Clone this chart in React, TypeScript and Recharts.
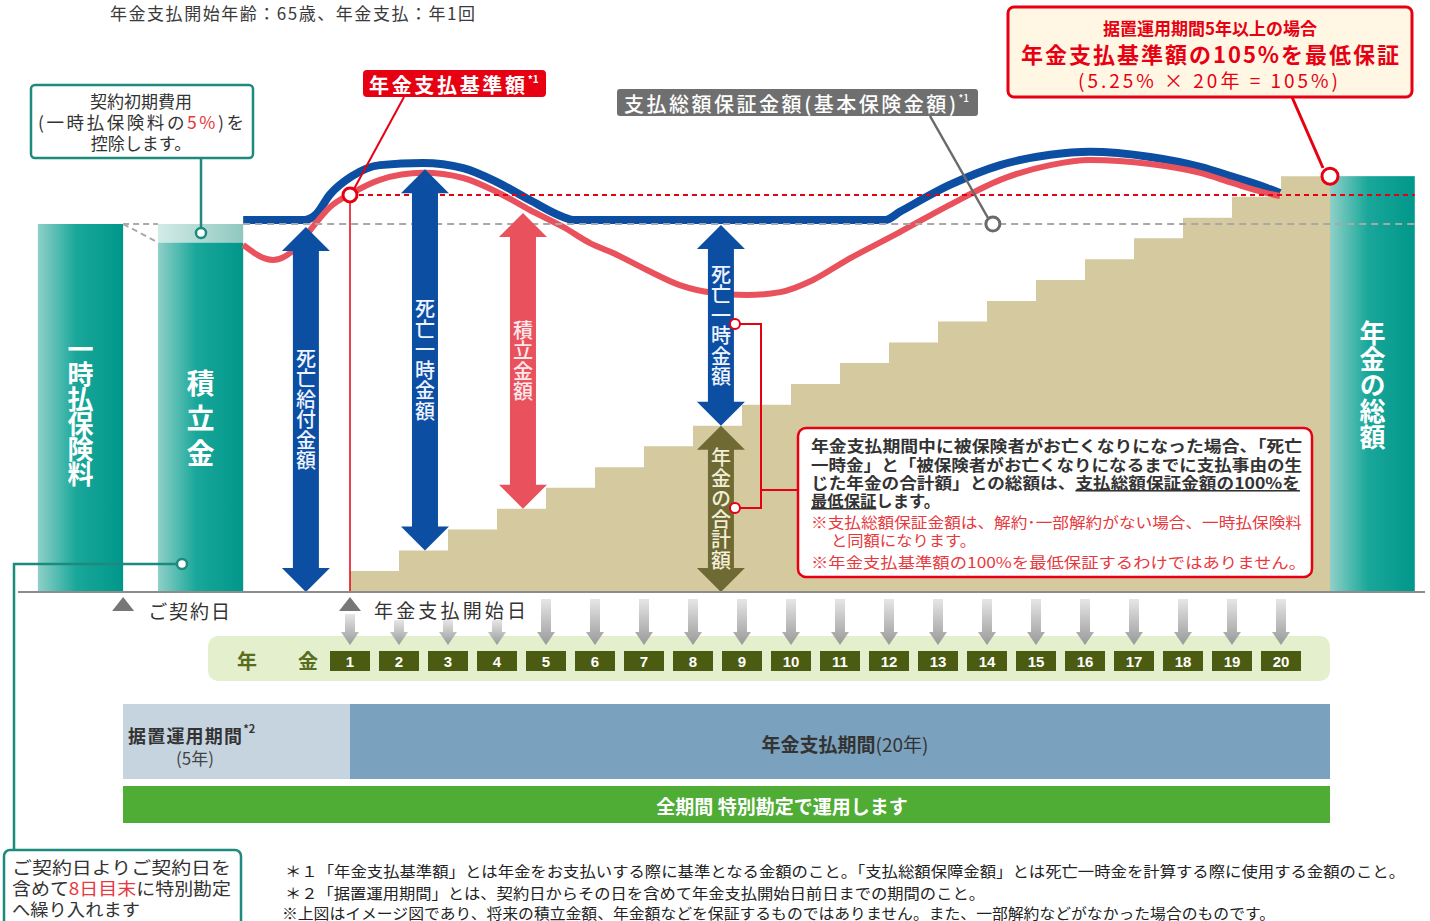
import React from "react";
import {
  ComposedChart,
  XAxis,
  YAxis,
  Area,
  Line,
  ReferenceArea,
  ReferenceLine,
  ReferenceDot,
} from "recharts";

const FONT = "'Noto Sans CJK JP', 'Noto Sans', sans-serif";

// timeline unit = 1 year, 0 = 年金支払開始日. amounts: 一時払保険料 = 100
const paymentYears = [1, 2, 3, 4, 5, 6, 7, 8, 9, 10, 11, 12, 13, 14, 15, 16, 17, 18, 19, 20];
const pensionTotals = [
  5.7, 11.3, 17.0, 22.6, 28.3, 33.9, 39.6, 45.2, 50.9, 56.5,
  62.2, 67.8, 73.5, 79.1, 84.8, 90.4, 96.1, 101.7, 107.4, 113.0,
];
const contractDay = -4.63;

const basicAmount = 100; // 支払総額保証金額
const pensionBase = 107.9; // 年金支払基準額

// 積立金額 (red curve)
const reserveT = [
  -2.18, -1.57, -1.08, -0.76, -0.41, 0.04, 0.61, 1.49, 2.31, 3.0, 3.67, 4.35, 4.9, 5.37,
  6.06, 6.73, 7.41, 8.1, 8.78, 9.45, 10.14, 11.22, 12.24, 13.27, 14.29, 15.1, 16.33,
  17.35, 18.02, 18.71, 18.98,
];
const reserveV = [
  94.3, 90.2, 93.8, 99.2, 104.6, 108.4, 112.0, 113.9, 112.5, 108.7, 103.8, 99.2, 94.8, 92.1,
  87.5, 83.4, 81.3, 80.7, 81.5, 84.8, 90.2, 97.8, 105.2, 112.0, 116.0, 117.4, 116.3,
  113.9, 111.1, 108.4, 107.6,
];

// 死亡給付金額 (blue line)
const deathT = [
  -2.18, -0.92, -0.71, -0.41, 0.04, 0.61, 1.49, 2.31, 3.0, 3.67, 4.35, 4.55, 10.92, 11.22,
  12.24, 13.27, 14.29, 15.1, 16.33, 17.35, 18.02, 18.71, 18.98,
];
const deathV = [
  101.1, 101.1, 102.4, 108.0, 113.0, 116.0, 116.6, 115.2, 111.4, 106.5, 101.9, 101.1, 101.1,
  103.3, 110.6, 116.0, 118.8, 119.6, 118.2, 115.5, 112.8, 109.8, 108.4,
];

const columnNames = ["一時払保険料", "積立金", "年金の総額"];
const columnFrom = [-6.37, -3.92, 20];
const columnTo = [-4.63, -2.18, 21.73];
const columnValues = [100, 95, 113];
const initialCost = 5;

const arrowLabels = ["死亡給付金額", "死亡一時金額", "積立金額", "死亡一時金額", "年金の合計額"];
const arrowT = [-0.9, 1.53, 3.53, 7.57, 7.57];
const arrowTop = [99.2, 114.9, 103.0, 99.7, 45.2];
const arrowBottom = [0, 11.3, 22.6, 45.2, 0];
const arrowColors = ["#0b4ea2", "#0b4ea2", "#e9525d", "#0b4ea2", "#6f6934"];
const arrowText = ["#eef3ff", "#eef3ff", "#fde9eb", "#eef3ff", "#f1eed6"];

const reserveCurve = reserveT.map((t, i) => ({ t, v: reserveV[i] }));
const deathCurve = deathT.map((t, i) => ({ t, v: deathV[i] }));
const stairs = paymentYears
  .map((y, i) => ({ t: y - 1, v: pensionTotals[i] }))
  .concat([{ t: 20, v: pensionTotals[19] }]);
const tickValues = [contractDay, ...paymentYears.map((y) => y - 1)];

// vertical (tategaki) text, one text node
function VText({ x, cy, text, size, gap, fill, weight }: any) {
  const spacing = gap - size;
  return (
    <text
      x={x}
      y={cy + spacing / 2}
      textAnchor="middle"
      fontSize={size}
      fontWeight={weight}
      fill={fill}
      fontFamily={FONT}
      style={{ writingMode: "vertical-rl", letterSpacing: `${spacing}px` } as any}
    >
      {text}
    </text>
  );
}

function DoubleArrow(props: any) {
  const { x1, y1, x2, y2, color, label, textFill } = props;
  const x = (x1 + x2) / 2;
  const top = Math.min(y1, y2);
  const bot = Math.max(y1, y2);
  const w = 13;
  const hw = 24;
  const hl = 24;
  const pts = [
    [x, top],
    [x + hw, top + hl],
    [x + w, top + hl],
    [x + w, bot - hl],
    [x + hw, bot - hl],
    [x, bot],
    [x - hw, bot - hl],
    [x - w, bot - hl],
    [x - w, top + hl],
    [x - hw, top + hl],
  ]
    .map((p) => p.join(","))
    .join(" ");
  return (
    <g>
      <polygon points={pts} fill={color} />
      <VText x={x} cy={(top + bot) / 2} text={label} size={20} gap={20.5} fill={textFill} weight={500} />
    </g>
  );
}

function Column(props: any) {
  const { x, y, width, height, label, light } = props;
  if (light) {
    return <rect x={x} y={y} width={width} height={height} fill="url(#tealLight)" />;
  }
  const big = Array.from(label as string).length;
  const gap = big === 3 ? 35 : big === 5 ? 26 : 25;
  const cy = big === 3 ? 418 : big === 5 ? 385 : 412;
  const size = big === 3 ? 28 : 26;
  return (
    <g>
      <rect x={x} y={y} width={width} height={height} fill="url(#tealGrad)" />
      <VText x={x + width / 2} cy={cy} text={label} size={size} gap={gap} fill="#ffffff" weight={700} />
    </g>
  );
}

function YearTick(props: any) {
  const { x, y, payload } = props;
  const t = payload.value;
  if (t === contractDay) {
    return (
      <g>
        <polygon points={`${x - 11},${y + 19} ${x},${y + 5} ${x + 11},${y + 19}`} fill="#777" />
        <text x={x + 25} y={y + 18} fontSize={19} fill="#333" fontFamily={FONT} dominantBaseline="central" textLength={82}>
          ご契約日
        </text>
      </g>
    );
  }
  const isStart = t === 0;
  const underLabel = t > 0 && t < 4;
  const top = isStart ? y + 22 : underLabel ? y + 28 : y + 7;
  const shaft = `${x - 5},${top} ${x + 5},${top} ${x + 5},${y + 40} ${x + 9},${y + 40} ${x},${y + 53} ${x - 9},${y + 40} ${x - 5},${y + 40}`;
  return (
    <g>
      <polygon points={shaft} fill="url(#grayArrow)" />
      {isStart && (
        <g>
          <polygon points={`${x - 11},${y + 19} ${x},${y + 5} ${x + 11},${y + 19}`} fill="#777" />
          <text x={x + 24} y={y + 17} fontSize={19} fill="#333" fontFamily={FONT} dominantBaseline="central" textLength={152}>
            年金支払開始日
          </text>
        </g>
      )}
      <rect x={x - 20} y={y + 59} width={40} height={20} fill="#4b5b12" />
      <text
        x={x}
        y={y + 69.5}
        textAnchor="middle"
        dominantBaseline="central"
        fontSize={15}
        fontWeight={700}
        fill="#fff"
        fontFamily="'Liberation Sans', Arial, sans-serif"
      >
        {t + 1}
      </text>
    </g>
  );
}

function Underlay() {
  return (
    <svg width={1430} height={921} style={{ position: "absolute", left: 0, top: 0 }}>
      <rect x={208} y={636} width={1122} height={45} rx={10} fill="#e3efcd" />
      <text x={247} y={660} textAnchor="middle" dominantBaseline="central" fontSize={20} fontWeight={700} fill="#5a6d1e" fontFamily={FONT}>
        年
      </text>
      <text x={308} y={660} textAnchor="middle" dominantBaseline="central" fontSize={20} fontWeight={700} fill="#5a6d1e" fontFamily={FONT}>
        金
      </text>
      <rect x={123} y={704} width={227} height={75} fill="#c6d4e0" />
      <rect x={350} y={704} width={980} height={75} fill="#7aa1bd" />
      <text x={128} y={735} fontSize={18} fontWeight={700} fill="#333" fontFamily={FONT} dominantBaseline="central">
        <tspan textLength={114}>据置運用期間</tspan>
        <tspan fontSize={11} dy={-7}>*2</tspan>
      </text>
      <text x={195} y={757} textAnchor="middle" fontSize={17} fill="#444" fontFamily={FONT} dominantBaseline="central">
        (5年)
      </text>
      <text x={845} y={743} textAnchor="middle" fontSize={19} fill="#333" fontFamily={FONT} dominantBaseline="central">
        <tspan fontWeight={700}>年金支払期間</tspan>
        <tspan>(20年)</tspan>
      </text>
      <rect x={123} y={786} width={1207} height={37} fill="#4fac34" />
      <text x={782} y={805} textAnchor="middle" fontSize={19} fontWeight={700} fill="#fff" fontFamily={FONT} dominantBaseline="central">
        全期間 特別勘定で運用します
      </text>
    </svg>
  );
}

function Overlay() {
  const teal = "#1c8a7c";
  const red = "#e60012";
  const pink = "#e8383d";
  const u = { textDecoration: "underline" };
  return (
    <svg
      width={1430}
      height={921}
      style={{ position: "absolute", left: 0, top: 0, pointerEvents: "none" }}
      fontFamily={FONT}
    >
      <text x={110} y={12} fontSize={17} fill="#3a3a3a" dominantBaseline="central" textLength={365}>
        年金支払開始年齢：65歳、年金支払：年1回
      </text>

      {/* 契約初期費用 */}
      <line x1={201} y1={158} x2={201} y2={228} stroke={teal} strokeWidth={2.5} />
      <circle cx={201} cy={233} r={5} fill="#fff" stroke={teal} strokeWidth={2.5} />
      <rect x={31} y={85} width={222} height={73} rx={4} fill="#fff" stroke={teal} strokeWidth={2.5} />
      <text x={141} y={100} textAnchor="middle" dominantBaseline="central" fontSize={17} fill="#333">
        契約初期費用
      </text>
      <text x={141} y={121} textAnchor="middle" dominantBaseline="central" fontSize={17.5} fill="#333" textLength={206}>
        (一時払保険料の<tspan fill={pink}>5%</tspan>)を
      </text>
      <text x={141} y={142} textAnchor="middle" dominantBaseline="central" fontSize={17} fill="#333">
        控除します。
      </text>

      {/* 年金支払基準額 */}
      <line x1={404} y1={97} x2={354} y2={189} stroke={red} strokeWidth={2} />
      <rect x={363} y={70} width={183} height={27} rx={4} fill={red} />
      <text x={369} y={84} dominantBaseline="central" fontSize={20} fontWeight={700} fill="#fff">
        <tspan textLength={156}>年金支払基準額</tspan>
        <tspan fontSize={10} dy={-6}>*1</tspan>
      </text>

      {/* 支払総額保証金額 */}
      <line x1={930} y1={116} x2={988} y2={218} stroke="#6a6a6a" strokeWidth={2.5} />
      <rect x={617} y={89} width={361} height={27} rx={3} fill="#6f6f6f" />
      <text x={624} y={103} dominantBaseline="central" fontSize={20} fontWeight={500} fill="#fff">
        <tspan textLength={332}>支払総額保証金額(基本保険金額)</tspan>
        <tspan fontSize={10} dy={-6}>*1</tspan>
      </text>

      {/* 105% box */}
      <line x1={1292} y1={97} x2={1323} y2={168} stroke={red} strokeWidth={3} />
      <rect x={1008} y={7} width={404} height={90} rx={6} fill="#fff7e4" stroke={red} strokeWidth={3} />
      <text x={1210} y={27} textAnchor="middle" dominantBaseline="central" fontSize={17} fontWeight={700} fill={red}>
        据置運用期間5年以上の場合
      </text>
      <text x={1210} y={53} textAnchor="middle" dominantBaseline="central" fontSize={22} fontWeight={700} fill={red} textLength={378}>
        年金支払基準額の105%を最低保証
      </text>
      <text x={1208} y={79} textAnchor="middle" dominantBaseline="central" fontSize={19} fill={red} textLength={260}>
        (5.25% × 20年 = 105%)
      </text>

      {/* 死亡一時金 + 年金合計 note */}
      <polyline points="740,324 761,324 761,508 740,508" fill="none" stroke={red} strokeWidth={2} />
      <line x1={761} y1={490} x2={798} y2={490} stroke={red} strokeWidth={2} />
      <circle cx={735} cy={324} r={5} fill="#fff" stroke={red} strokeWidth={2} />
      <circle cx={735} cy={508} r={5} fill="#fff" stroke={red} strokeWidth={2} />
      <rect x={798} y={428} width={514} height={149} rx={8} fill="#fff" stroke={red} strokeWidth={2.5} />
      <text dominantBaseline="central" fontSize={15.5}>
        <tspan x={811} y={445} fontWeight={700} fill="#333" textLength={491} lengthAdjust="spacingAndGlyphs">
          年金支払期間中に被保険者がお亡くなりになった場合、「死亡
        </tspan>
        <tspan x={811} y={464} fontWeight={700} fill="#333" textLength={491} lengthAdjust="spacingAndGlyphs">
          一時金」と「被保険者がお亡くなりになるまでに支払事由の生
        </tspan>
        <tspan x={811} y={482} fontWeight={700} fill="#333" textLength={489} lengthAdjust="spacingAndGlyphs">
          じた年金の合計額」との総額は、<tspan style={u}>支払総額保証金額の100%を</tspan>
        </tspan>
        <tspan x={811} y={500} fontWeight={700} fill="#333" textLength={129} lengthAdjust="spacingAndGlyphs">
          <tspan style={u}>最低保証</tspan>します。
        </tspan>
        <tspan x={811} y={521} fontSize={15} fill={pink} textLength={491} lengthAdjust="spacingAndGlyphs">
          ※支払総額保証金額は、解約･一部解約がない場合、一時払保険料
        </tspan>
        <tspan x={831} y={539} fontSize={15} fill={pink} textLength={145} lengthAdjust="spacingAndGlyphs">
          と同額になります。
        </tspan>
        <tspan x={811} y={561} fontSize={15} fill={pink} textLength={495} lengthAdjust="spacingAndGlyphs">
          ※年金支払基準額の100%を最低保証するわけではありません。
        </tspan>
      </text>

      {/* 8日目末 note */}
      <polyline points="177,564 14,564 14,850" fill="none" stroke={teal} strokeWidth={2.5} />
      <circle cx={182} cy={564} r={5} fill="#fff" stroke={teal} strokeWidth={2.5} />
      <rect x={4} y={850} width={237} height={90} rx={6} fill="#fff" stroke={teal} strokeWidth={2.5} />
      <g fontSize={17.5} fill="#333">
        <text x={12} y={866} dominantBaseline="central" textLength={219} lengthAdjust="spacingAndGlyphs">
          ご契約日よりご契約日を
        </text>
        <text x={12} y={887} dominantBaseline="central" textLength={219} lengthAdjust="spacingAndGlyphs">
          含めて<tspan fill={pink}>8日目末</tspan>に特別勘定
        </text>
        <text x={12} y={908} dominantBaseline="central" textLength={128} lengthAdjust="spacingAndGlyphs">
          へ繰り入れます
        </text>
      </g>

      {/* footnotes */}
      <g fontSize={15} fill="#222">
        <text x={285} y={870} dominantBaseline="central" textLength={1120} lengthAdjust="spacingAndGlyphs">
          ＊１「年金支払基準額」とは年金をお支払いする際に基準となる金額のこと。「支払総額保障金額」とは死亡一時金を計算する際に使用する金額のこと。
        </text>
        <text x={285} y={892} dominantBaseline="central" textLength={700} lengthAdjust="spacingAndGlyphs">
          ＊２「据置運用期間」とは、契約日からその日を含めて年金支払開始日前日までの期間のこと。
        </text>
        <text x={282} y={912} dominantBaseline="central" textLength={993} lengthAdjust="spacingAndGlyphs">
          ※上図はイメージ図であり、将来の積立金額、年金額などを保証するものではありません。また、一部解約などがなかった場合のものです。
        </text>
      </g>
    </svg>
  );
}

export default function App() {
  return (
    <div style={{ position: "relative", width: 1430, height: 921, overflow: "hidden", fontFamily: FONT, background: "#fff" }}>
      <style>{"body{margin:0}"}</style>
      <Underlay />
      <div style={{ position: "absolute", left: 0, top: 0 }}>
        <ComposedChart width={1430} height={921} margin={{ top: 0, right: 5, bottom: 0, left: 18 }}>
          <defs>
            <linearGradient id="tealGrad" x1="0" y1="0" x2="1" y2="0">
              <stop offset="0%" stopColor="#8fd0c8" />
              <stop offset="45%" stopColor="#19a79a" />
              <stop offset="100%" stopColor="#00978a" />
            </linearGradient>
            <linearGradient id="tealLight" x1="0" y1="0" x2="1" y2="0">
              <stop offset="0%" stopColor="#d3ebe7" />
              <stop offset="100%" stopColor="#8fc8bf" />
            </linearGradient>
            <linearGradient id="grayArrow" x1="0" y1="0" x2="0" y2="1">
              <stop offset="0%" stopColor="#e6e6e6" />
              <stop offset="100%" stopColor="#999999" />
            </linearGradient>
          </defs>
          <XAxis
            type="number"
            dataKey="t"
            domain={[-6.7755, 21.9388]}
            allowDataOverflow
            ticks={tickValues}
            interval={0}
            height={329}
            tickLine={false}
            tickSize={0}
            tickMargin={0}
            axisLine={{ stroke: "#8c8c8c", strokeWidth: 2 }}
            tick={(p: any) => <YearTick {...p} />}
          />
          <YAxis hide type="number" domain={[0, 160.87]} allowDataOverflow />

          {columnNames.map((name, i) => (
            <ReferenceArea
              key={name}
              x1={columnFrom[i]}
              x2={columnTo[i]}
              y1={0}
              y2={columnValues[i]}
              fillOpacity={1}
              shape={(p: any) => <Column {...p} label={name} />}
            />
          ))}
          <ReferenceArea
            x1={columnFrom[1]}
            x2={columnTo[1]}
            y1={columnValues[1]}
            y2={columnValues[1] + initialCost}
            fillOpacity={1}
            shape={(p: any) => <Column {...p} light />}
          />

          <Area
            data={stairs}
            dataKey="v"
            type="stepAfter"
            fill="#d5c9a0"
            fillOpacity={1}
            stroke="none"
            isAnimationActive={false}
          />
          <Line
            data={deathCurve}
            dataKey="v"
            type="monotone"
            stroke="#0b4ea2"
            strokeWidth={8}
            dot={false}
            isAnimationActive={false}
          />
          <Line
            data={reserveCurve}
            dataKey="v"
            type="monotone"
            stroke="#e9525d"
            strokeWidth={6}
            dot={false}
            isAnimationActive={false}
          />

          <ReferenceLine
            segment={[{ x: columnTo[0], y: basicAmount }, { x: columnFrom[1], y: basicAmount }]}
            stroke="#aaa"
            strokeWidth={2}
            strokeDasharray="6 4"
          />
          <ReferenceLine
            segment={[{ x: columnTo[0], y: basicAmount }, { x: columnFrom[1], y: columnValues[1] }]}
            stroke="#aaa"
            strokeWidth={2}
            strokeDasharray="6 4"
          />
          <ReferenceLine
            segment={[{ x: columnTo[1], y: basicAmount }, { x: columnTo[2], y: basicAmount }]}
            stroke="#a8a8a8"
            strokeWidth={2}
            strokeDasharray="7 5"
          />
          <ReferenceLine
            segment={[{ x: 0, y: pensionBase }, { x: columnTo[2], y: pensionBase }]}
            stroke="#e60012"
            strokeWidth={2}
            strokeDasharray="5 4"
          />
          <ReferenceLine
            segment={[{ x: 0, y: 0 }, { x: 0, y: pensionBase }]}
            stroke="#e60012"
            strokeWidth={1.5}
          />

          {arrowLabels.map((label, i) => (
            <ReferenceLine
              key={i}
              segment={[{ x: arrowT[i], y: arrowTop[i] }, { x: arrowT[i], y: arrowBottom[i] }]}
              shape={(p: any) => (
                <DoubleArrow {...p} color={arrowColors[i]} textFill={arrowText[i]} label={label} />
              )}
            />
          ))}

          <ReferenceDot x={0} y={pensionBase} r={7} fill="#fff" stroke="#e60012" strokeWidth={3} />
          <ReferenceDot x={13.12} y={basicAmount} r={7} fill="#fff" stroke="#6a6a6a" strokeWidth={3} />
          <ReferenceDot x={20} y={pensionTotals[19]} r={8} fill="#fff" stroke="#e60012" strokeWidth={3} />
        </ComposedChart>
      </div>
      <Overlay />
    </div>
  );
}
